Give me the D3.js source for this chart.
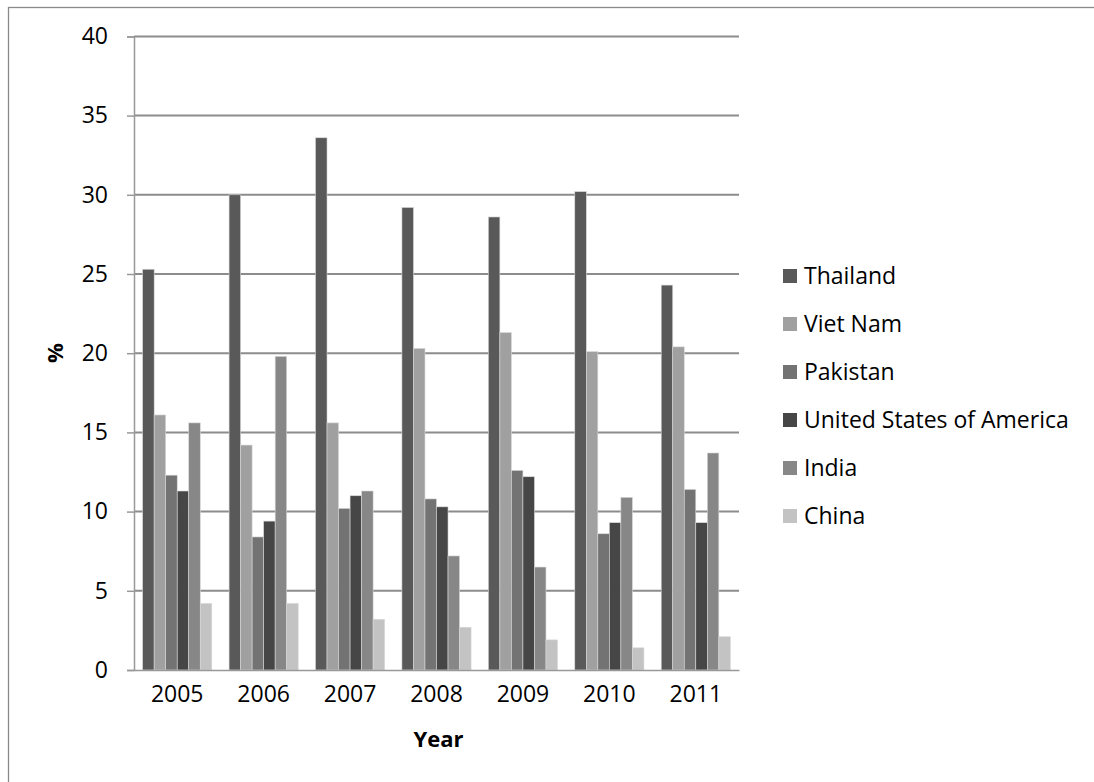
<!DOCTYPE html>
<html>
<head>
<meta charset="utf-8">
<script src="https://cdn.jsdelivr.net/npm/d3@7"></script>
<style>
  html, body { margin: 0; padding: 0; background: #fff; }
  svg { display: block; }
  text { font-family: "Open Sans", "Noto Sans", sans-serif; fill: #000; }
</style>
</head>
<body>
<svg id="chart" width="1094" height="782"></svg>
<script>
// Share of rice imports by source country, per year (%)
const years = ["2005", "2006", "2007", "2008", "2009", "2010", "2011"];
const countries = ["Thailand", "Viet Nam", "Pakistan", "United States of America", "India", "China"];
const thailand = [25.3, 30.0, 33.6, 29.2, 28.6, 30.2, 24.3];
const vietNam  = [16.1, 14.2, 15.6, 20.3, 21.3, 20.1, 20.4];
const pakistan = [12.3, 8.4, 10.2, 10.8, 12.6, 8.6, 11.4];
const usa      = [11.3, 9.4, 11.0, 10.3, 12.2, 9.3, 9.3];
const india    = [15.6, 19.8, 11.3, 7.2, 6.5, 10.9, 13.7];
const china    = [4.2, 4.2, 3.2, 2.7, 1.9, 1.4, 2.1];
const yTicks = [0, 5, 10, 15, 20, 25, 30, 35, 40];
const colors = ["#595959", "#a0a0a0", "#737373", "#464646", "#878787", "#c3c3c3"];

const seriesValues = [thailand, vietNam, pakistan, usa, india, china];
const rows = years.map((y, i) => ({ year: y, values: seriesValues.map(s => s[i]) }));

const svg = d3.select("#chart");

// outer frame (runs past the right and bottom edges)
svg.append("rect")
  .attr("x", 8.5).attr("y", 7.5)
  .attr("width", 1200).attr("height", 1000)
  .attr("fill", "none").attr("stroke", "#8a8a8a").attr("stroke-width", 1.3);

const plot = { left: 134, right: 739, top: 36.4, bottom: 670 };

const x0 = d3.scaleBand().domain(years).range([plot.left, plot.right]).padding(0);
const x1 = d3.scaleBand().domain(countries)
  .range([0, x0.bandwidth()]).paddingOuter(0.75).paddingInner(0);
const y = d3.scaleLinear().domain([0, 40]).range([plot.bottom, plot.top]);
const color = d3.scaleOrdinal().domain(countries).range(colors);

// horizontal gridlines
svg.append("g")
  .selectAll("line")
  .data(yTicks.filter(t => t > 0))
  .join("line")
  .attr("x1", plot.left).attr("x2", plot.right)
  .attr("y1", d => y(d)).attr("y2", d => y(d))
  .attr("stroke", "#8c8c8c").attr("stroke-width", 2);

// bars
svg.append("g")
  .selectAll("g")
  .data(rows)
  .join("g")
  .attr("transform", d => `translate(${x0(d.year)},0)`)
  .selectAll("rect")
  .data(d => d.values.map((v, i) => ({ key: countries[i], value: v })))
  .join("rect")
  .attr("x", d => x1(d.key))
  .attr("width", x1.bandwidth())
  .attr("y", d => y(d.value))
  .attr("height", d => y(0) - y(d.value))
  .attr("fill", d => color(d.key))
  .attr("stroke", "#d8d8d8").attr("stroke-width", 0.6);

// y axis
const yAxis = d3.axisLeft(y).tickValues(yTicks).tickSize(7).tickPadding(19).tickFormat(d3.format("d"));
const gy = svg.append("g").attr("transform", `translate(${plot.left},0)`).call(yAxis);
gy.select(".domain").attr("stroke", "#999").attr("stroke-width", 1.5);
gy.selectAll(".tick line").attr("stroke", "#999").attr("stroke-width", 1.5);
gy.selectAll(".tick text").style("font-size", "23px").attr("fill", "#000");

// x axis
const xAxis = d3.axisBottom(x0).tickSize(0).tickPadding(16);
const gx = svg.append("g").attr("transform", `translate(0,${plot.bottom})`).call(xAxis);
gx.select(".domain").attr("stroke", "#999").attr("stroke-width", 1.5);
gx.selectAll(".tick text").style("font-size", "23px").attr("fill", "#000");

// axis titles
svg.append("text")
  .attr("transform", `translate(63,${(plot.top + plot.bottom) / 2}) rotate(-90)`)
  .attr("text-anchor", "middle")
  .style("font-size", "22px").style("font-weight", "bold")
  .text("%");

svg.append("text")
  .attr("x", (plot.left + plot.right) / 2 + 2).attr("y", 747)
  .attr("text-anchor", "middle")
  .style("font-size", "22px").style("font-weight", "bold")
  .text("Year");

// legend
const legend = svg.append("g")
  .selectAll("g")
  .data(countries)
  .join("g")
  .attr("transform", (d, i) => `translate(783,${276 + i * 48})`);
legend.append("rect")
  .attr("x", 0).attr("y", -7).attr("width", 14).attr("height", 14)
  .attr("fill", d => color(d));
legend.append("text")
  .attr("x", 21).attr("y", 0).attr("dy", "0.35em")
  .style("font-size", "23px")
  .text(d => d);
</script>
</body>
</html>
